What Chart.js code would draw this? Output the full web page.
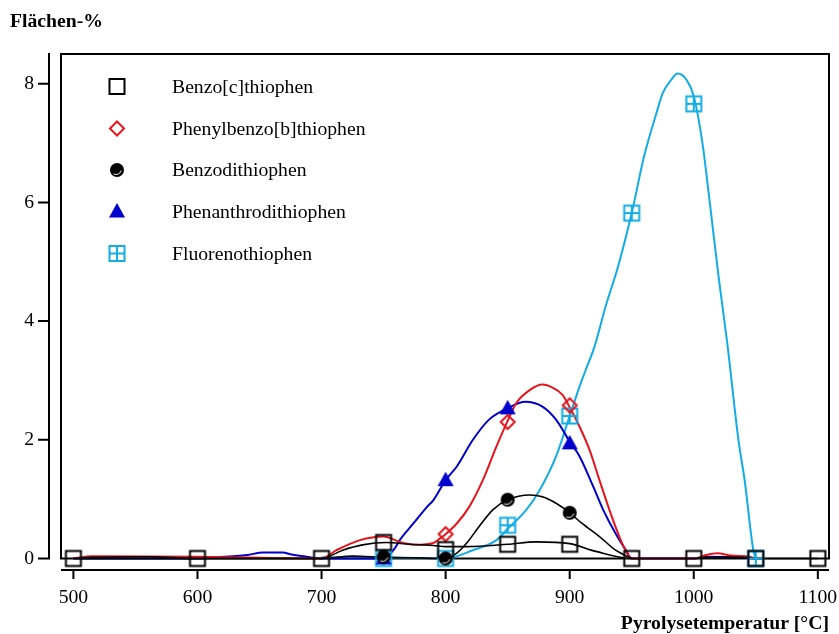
<!DOCTYPE html>
<html>
<head>
<meta charset="utf-8">
<script src="https://cdn.jsdelivr.net/npm/chart.js@4/dist/chart.umd.min.js"></script>
<style>
html,body{margin:0;padding:0;background:#fff;}
canvas{display:block;}
</style>
</head>
<body>
<canvas id="c" width="839" height="634"></canvas>
<script>
// ---- data ----
const seriesNames = ['Benzo[c]thiophen','Phenylbenzo[b]thiophen','Benzodithiophen','Phenanthrodithiophen','Fluorenothiophen'];
const xTickValues = [500,600,700,800,900,1000,1100];
const yTickValues = [0,2,4,6,8];

// measured points (markers)
const markerTemps   = [500,600,700,750,800,850,900,950,1000,1050,1100];
const benzoCPts     = [0,0,0,0.27,0.15,0.24,0.24,0,0,0,0];
const phenylPts     = [null,null,null,null,0.41,2.30,2.58,null,null,null,null];
const benzodiPts    = [null,null,null,0.03,0.0,0.99,0.77,null,null,null,null];
const phenanthroPts = [null,null,null,0.0,1.32,2.53,1.94,null,null,null,null];
const fluorenoPts   = [null,null,null,0,0,0.56,2.40,5.82,7.66,0,null];

// traced smoothing curves
const benzoCCurveT = [500,515,560,600,700,717,733,752,771,790,800,817,850,873,900,921,950,1000,1010,1040,1050,1100];
const benzoCCurveV = [0,0.02,0.03,0,0,0.14,0.23,0.27,0.24,0.22,0.2,0.2,0.24,0.28,0.25,0.12,0,0,0.02,0.02,0,0];
const phenylCurveT = [500,515,600,700,712,731,750,763,776,790,795,800,809,819,830,841,850,857,868,878,886,894,900,908,916,924,932,940,945,950,1000,1010,1019,1030,1045,1050];
const phenylCurveV = [0,0.04,0.03,0,0.14,0.31,0.37,0.28,0.23,0.26,0.33,0.41,0.59,0.87,1.32,1.89,2.32,2.62,2.84,2.93,2.88,2.76,2.55,2.22,1.83,1.32,0.82,0.37,0.14,0,0,0.06,0.09,0.05,0.03,0];
const benzodiCurveT = [500,600,700,725,750,775,800,809,817,827,838,850,868,878,889,900,910,924,937,950];
const benzodiCurveV = [0,0,0,0.04,0.02,0.01,0,0.09,0.26,0.54,0.82,0.99,1.07,1.04,0.93,0.77,0.59,0.37,0.14,0];
const phenanthroCurveT = [500,600,615,629,640,653,669,675,688,700,750,759,763,774,785,790,800,809,822,835,850,864,878,889,900,908,919,927,937,945,950,1000,1010,1040,1050];
const phenanthroCurveV = [0,0,0.02,0.04,0.06,0.10,0.10,0.07,0.03,0,0,0.17,0.31,0.59,0.87,0.98,1.32,1.55,2.0,2.34,2.53,2.64,2.56,2.34,1.97,1.72,1.21,0.82,0.42,0.15,0,0,0.03,0.02,0];
const fluorenoCurveT = [700,750,800,822,841,850,865,876,889,900,908,913,920,929,939,950,960,970,975,982,987,994,1000,1007,1012,1020,1027,1036,1041,1048,1050];
const fluorenoCurveV = [0.02,0.02,0,0.14,0.31,0.5,0.82,1.16,1.72,2.40,2.90,3.18,3.57,4.25,4.92,5.82,6.78,7.51,7.84,8.07,8.17,8.07,7.79,7.0,6.16,4.75,3.63,2.0,1.32,0.14,0];

// ---- styling ----
const BLACK = '#000000', RED = '#e8141c', BLUE = '#0000cc', CYAN = '#12ace6';
const FONT = "'Liberation Serif','Times New Roman',serif";
const FSIZE = 19.7;

function drawMarker(ctx, type, x, y) {
  ctx.save();
  ctx.lineWidth = 2;
  if (type === 'square') {
    ctx.strokeStyle = BLACK;
    ctx.strokeRect(x - 7.5, y - 7.5, 15, 15);
  } else if (type === 'diamond') {
    ctx.strokeStyle = RED;
    ctx.beginPath();
    ctx.moveTo(x, y - 7); ctx.lineTo(x + 7, y); ctx.lineTo(x, y + 7); ctx.lineTo(x - 7, y); ctx.closePath();
    ctx.stroke();
  } else if (type === 'circle') {
    ctx.fillStyle = BLACK;
    ctx.beginPath(); ctx.arc(x, y, 7, 0, Math.PI * 2); ctx.fill();
    ctx.strokeStyle = '#ffffff'; ctx.lineWidth = 1;
    ctx.beginPath(); ctx.arc(x - 1, y - 1, 5.5, 0.1 * Math.PI, 0.65 * Math.PI); ctx.stroke();
  } else if (type === 'triangle') {
    ctx.fillStyle = BLUE;
    ctx.beginPath();
    ctx.moveTo(x, y - 8.5); ctx.lineTo(x + 8, y + 6); ctx.lineTo(x - 8, y + 6); ctx.closePath();
    ctx.fill();
  } else if (type === 'cross') {
    ctx.strokeStyle = CYAN;
    ctx.strokeRect(x - 7.5, y - 7.5, 15, 15);
    ctx.beginPath();
    ctx.moveTo(x - 7.5, y); ctx.lineTo(x + 7.5, y);
    ctx.moveTo(x, y - 7.5); ctx.lineTo(x, y + 7.5);
    ctx.stroke();
  }
  ctx.restore();
}
function markerCanvas(type) {
  const c = document.createElement('canvas');
  c.width = 20; c.height = 20;
  drawMarker(c.getContext('2d'), type, 10, 10);
  return c;
}
const markerTypes = ['square','diamond','circle','triangle','cross'];
const markerImgs = markerTypes.map(markerCanvas);

function pts(ts, vs) {
  const out = [];
  ts.forEach((t, i) => { if (vs[i] !== null) out.push({x: t, y: vs[i]}); });
  return out;
}
function curve(ts, vs, color, width, order) {
  return {data: pts(ts, vs), borderColor: color, borderWidth: width, pointRadius: 0,
    cubicInterpolationMode: 'monotone', fill: false, order: order, clip: false};
}
function marks(vs, idx, order) {
  return {data: pts(markerTemps, vs), showLine: false, pointStyle: markerImgs[idx],
    pointRadius: 10, borderWidth: 0, order: order, clip: false};
}

const datasets = [
  marks(benzoCPts, 0, 0),
  marks(phenylPts, 1, 3),
  marks(benzodiPts, 2, 1),
  marks(phenanthroPts, 3, 2),
  marks(fluorenoPts, 4, 4),
  curve(benzoCCurveT, benzoCCurveV, BLACK, 1.6, 10),
  curve(benzodiCurveT, benzodiCurveV, BLACK, 1.6, 11),
  curve(phenylCurveT, phenylCurveV, RED, 2, 12),
  curve(phenanthroCurveT, phenanthroCurveV, BLUE, 2, 13),
  curve(fluorenoCurveT, fluorenoCurveV, CYAN, 2, 14)
];

const decor = {
  id: 'decor',
  beforeDatasetsDraw(chart) {
    const ctx = chart.ctx, a = chart.chartArea;
    ctx.save();
    ctx.strokeStyle = BLACK; ctx.lineWidth = 2;
    ctx.strokeRect(a.left, a.top, a.right - a.left, a.bottom - a.top);
    ctx.restore();
  },
  afterDatasetsDraw(chart) {
    const ctx = chart.ctx, a = chart.chartArea;
    const xs = chart.scales.x, ys = chart.scales.y;
    ctx.save();
    ctx.strokeStyle = BLACK; ctx.lineWidth = 2;
    // offset y axis
    const ax = a.left - 12;
    ctx.beginPath();
    ctx.moveTo(ax, a.top - 1); ctx.lineTo(ax, ys.getPixelForValue(0) + 1);
    ys.ticks.forEach(t => { const py = ys.getPixelForValue(t.value); ctx.moveTo(ax - 11, py); ctx.lineTo(ax, py); });
    ctx.stroke();
    // offset x axis
    const ay = a.bottom + 11.5;
    ctx.beginPath();
    ctx.moveTo(a.left, ay); ctx.lineTo(a.right, ay);
    xs.ticks.forEach(t => { const px = xs.getPixelForValue(t.value); ctx.moveTo(px, ay); ctx.lineTo(px, ay + 9); });
    ctx.stroke();
    // titles
    ctx.fillStyle = BLACK;
    ctx.font = 'bold ' + FSIZE + 'px ' + FONT;
    ctx.textBaseline = 'middle';
    ctx.textAlign = 'left';
    ctx.fillText('Flächen-%', 10, 22);
    ctx.textAlign = 'right';
    ctx.fillText('Pyrolysetemperatur [°C]', 829, 624);
    // legend
    ctx.font = FSIZE + 'px ' + FONT;
    ctx.textAlign = 'left';
    const rows = [86.5, 128.5, 170, 211.5, 253.5];
    seriesNames.forEach((n, i) => {
      drawMarker(ctx, markerTypes[i], 117, rows[i]);
      ctx.fillText(n, 172, rows[i] + 1);
    });
    ctx.restore();
  }
};

new Chart(document.getElementById('c'), {
  type: 'line',
  data: {datasets: datasets},
  options: {
    responsive: false,
    devicePixelRatio: 1,
    animation: false,
    layout: {padding: {top: 54, right: 9, left: 0, bottom: 0}},
    plugins: {legend: {display: false}, tooltip: {enabled: false}},
    scales: {
      x: {
        type: 'linear', min: 490, max: 1109,
        afterBuildTicks: s => { s.ticks = xTickValues.map(v => ({value: v})); },
        afterFit: s => { s.height = 75.5; s.paddingLeft = 0; s.paddingRight = 0; },
        grid: {display: false, drawTicks: false, tickLength: 0},
        border: {display: false},
        ticks: {font: {family: FONT, size: FSIZE}, color: BLACK, maxRotation: 0, autoSkip: false, padding: 28,
          callback: v => String(v)}
      },
      y: {
        type: 'linear', min: 0, max: 8.5,
        afterBuildTicks: s => { s.ticks = yTickValues.map(v => ({value: v})); },
        afterFit: s => { s.width = 61; s.paddingTop = 0; s.paddingBottom = 0; },
        grid: {display: false, drawTicks: false, tickLength: 0},
        border: {display: false},
        ticks: {font: {family: FONT, size: FSIZE}, color: BLACK, autoSkip: false, padding: 27,
          callback: v => String(v)}
      }
    }
  },
  plugins: [decor]
});
</script>
</body>
</html>
